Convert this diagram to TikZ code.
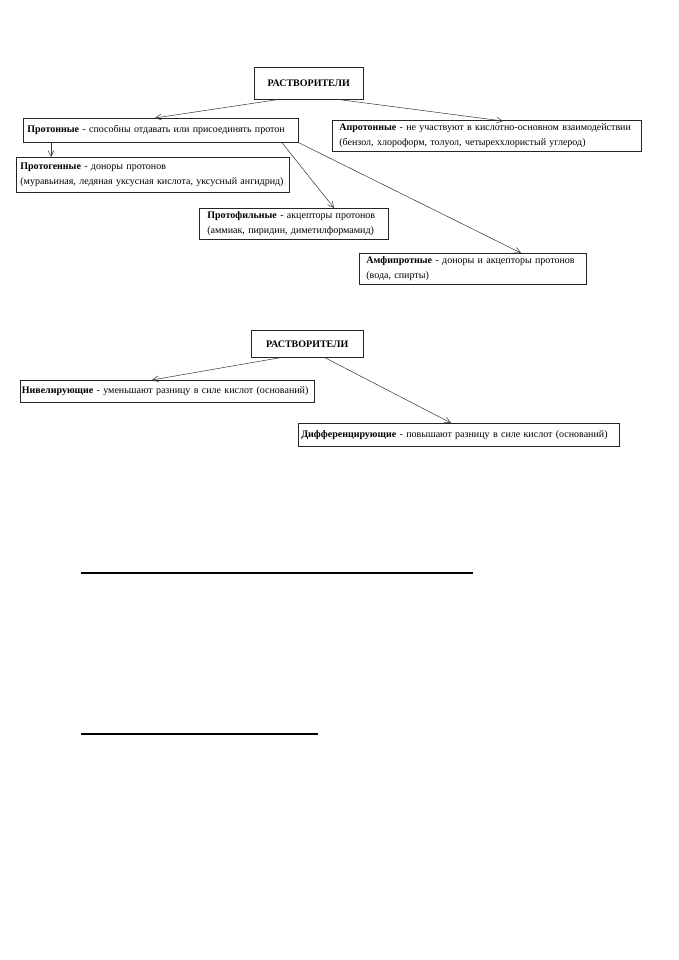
\documentclass[tikz,border=0pt]{standalone}
\usepackage{fontspec}
\setmainfont{Liberation Serif}
\usetikzlibrary{arrows.meta,calc}
\begin{document}
\begin{tikzpicture}[x=1pt,y=1pt,
  box/.style={draw=black!85,line width=0.7pt,rectangle,anchor=north west,inner ysep=0pt,
    font=\fontsize{10.0}{14.8}\selectfont,align=left},
  conn/.style={draw=black!80,line width=0.5pt,-{Straight Barb[length=6pt,width=6pt]}},
  rule/.style={line width=1.1pt}]
\useasboundingbox[fill=white] (0,0) rectangle (678,-960);

\node[box,minimum width=109pt,minimum height=32pt,inner xsep=4pt,align=center,text width=101pt] (r1) at (254,-67) {\textbf{РАСТВОРИТЕЛИ}};
\node[box,minimum width=275pt,minimum height=24pt,inner xsep=4pt,text width=267pt] (prot) at (23,-118)
  {\mbox{\textbf{Протонные} - способны отдавать или присоединять протон}};
\node[box,minimum width=309pt,minimum height=31pt,inner xsep=7pt,text width=295pt] (aprot) at (332,-120)
  {\mbox{\textbf{Апротонные} - не участвуют в кислотно-основном взаимодействии}\\\mbox{(бензол, хлороформ, толуол, четыреххлористый углерод)}};
\node[box,minimum width=273pt,minimum height=35pt,inner xsep=4pt,text width=265pt] (pgen) at (16,-157)
  {\mbox{\textbf{Протогенные} - доноры протонов}\\\mbox{(муравьиная, ледяная уксусная кислота, уксусный ангидрид)}};
\node[box,minimum width=189pt,minimum height=31pt,inner xsep=8pt,text width=173pt] (pfil) at (199,-208)
  {\mbox{\textbf{Протофильные} - акцепторы протонов}\\\mbox{(аммиак, пиридин, диметилформамид)}};
\node[box,minimum width=227pt,minimum height=31pt,inner xsep=7pt,text width=213pt] (amfi) at (359,-253)
  {\mbox{\textbf{Амфипротные} - доноры и акцепторы протонов}\\\mbox{(вода, спирты)}};

\node[box,minimum width=112pt,minimum height=27pt,inner xsep=4pt,align=center,text width=104pt] (r2) at (251,-330) {\textbf{РАСТВОРИТЕЛИ}};
\node[box,minimum width=294pt,minimum height=22pt,inner xsep=1.5pt,text width=291pt] (niv) at (20,-380)
  {\mbox{\textbf{Нивелирующие} - уменьшают разницу в силе кислот (оснований)}};
\node[box,minimum width=321pt,minimum height=23pt,inner xsep=3pt,text width=315pt] (dif) at (298,-423)
  {\mbox{\textbf{Дифференцирующие} - повышают разницу в силе кислот (оснований)}};

\draw[conn] ($(r1.south west)+(23,0)$) -- ($(prot.north west)+(132,0)$);
\draw[conn] ($(r1.south west)+(86,0)$) -- ($(aprot.north west)+(171,-1)$);
\draw[conn] ($(prot.south west)+(28,0)$) -- ($(pgen.north west)+(35,0)$);
\draw[conn] ($(prot.south west)+(259,0)$) -- ($(pfil.north west)+(135,0)$);
\draw[conn] (prot.south east) -- ($(amfi.north west)+(162,0)$);
\draw[conn] ($(r2.south west)+(29,0)$) -- ($(niv.north west)+(132,0)$);
\draw[conn] ($(r2.south west)+(74,0)$) -- ($(dif.north west)+(153,0)$);

\coordinate (l1a) at (81,-573); \coordinate (l1b) at (473,-573);
\coordinate (l2a) at (81,-734); \coordinate (l2b) at (318,-734);
\draw[rule] (l1a) -- (l1b);
\draw[rule] (l2a) -- (l2b);
\end{tikzpicture}
\end{document}
